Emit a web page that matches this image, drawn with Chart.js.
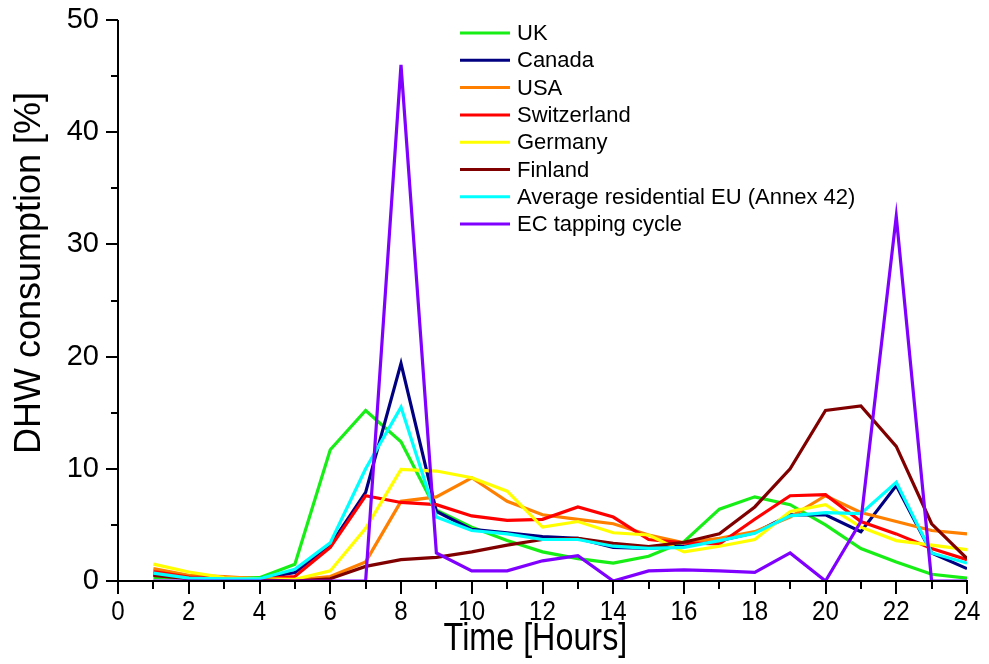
<!DOCTYPE html>
<html>
<head>
<meta charset="utf-8">
<script src="https://cdn.jsdelivr.net/npm/chart.js@4.4.1/dist/chart.umd.min.js"></script>
<style>
  html, body { margin: 0; padding: 0; background: #fff; }
  #wrap { width: 989px; height: 664px; position: relative; }
</style>
</head>
<body>
<div id="wrap"><canvas id="dhwChart"></canvas></div>
<script>
// hourly DHW profiles (% of daily use)
const hours = [1, 2, 3, 4, 5, 6, 7, 8, 9, 10, 11, 12, 13, 14, 15, 16, 17, 18, 19, 20, 21, 22, 23, 24];

const uk          = [0.3, 0.3, 0.25, 0.3, 1.5, 11.7, 15.2, 12.4, 6.3, 4.8, 3.6, 2.6, 2.0, 1.6, 2.2, 3.5, 6.4, 7.5, 6.8, 5.0, 2.9, 1.7, 0.6, 0.25];
const canada      = [0.6, 0.25, 0.2, 0.2, 0.75, 3.2, 7.9, 19.4, 6.2, 4.6, 4.3, 3.95, 3.8, 3.0, 2.9, 3.1, 3.6, 4.3, 5.9, 5.9, 4.4, 8.5, 2.5, 1.1];
const usa         = [1.1, 0.5, 0.4, 0.2, 0.1, 0.4, 1.7, 7.1, 7.5, 9.2, 7.1, 5.9, 5.5, 5.1, 4.1, 3.4, 3.8, 4.4, 5.7, 7.6, 6.1, 5.3, 4.5, 4.2];
const switzerland = [0.85, 0.35, 0.3, 0.2, 0.4, 3.0, 7.6, 7.0, 6.8, 5.8, 5.4, 5.5, 6.6, 5.7, 3.7, 3.4, 3.3, 5.5, 7.6, 7.7, 5.3, 4.2, 2.9, 1.9];
const germany     = [1.5, 0.8, 0.3, 0.2, 0.15, 0.9, 4.7, 9.95, 9.8, 9.2, 8.0, 4.8, 5.3, 4.3, 4.1, 2.6, 3.1, 3.7, 6.2, 6.8, 4.8, 3.6, 3.2, 2.8];
const finland     = [0.5, 0.2, 0.15, 0.1, 0.0, 0.2, 1.3, 1.9, 2.1, 2.6, 3.2, 3.7, 3.8, 3.35, 3.06, 3.45, 4.2, 6.6, 10.0, 15.2, 15.6, 12.0, 5.1, 2.0];
const avgEU       = [0.7, 0.25, 0.2, 0.2, 1.05, 3.4, 10.0, 15.5, 5.7, 4.5, 4.2, 3.7, 3.7, 3.1, 2.9, 3.0, 3.6, 4.25, 5.8, 6.1, 6.0, 8.8, 2.5, 1.6];
const ecCycle     = [0, 0, 0, 0, 0, 0, 0, 46, 2.5, 0.9, 0.9, 1.8, 2.26, 0, 0.9, 1.0, 0.9, 0.77, 2.5, 0, 5.3, 32.5, 0, 0];

const seriesNames = ["UK", "Canada", "USA", "Switzerland", "Germany", "Finland",
  "Average residential EU (Annex 42)", "EC tapping cycle"];
const seriesValues = [uk, canada, usa, switzerland, germany, finland, avgEU, ecCycle];
const seriesColors = ["#16ee16", "#000080", "#ff8000", "#ff0000", "#ffff00", "#800000", "#00ffff", "#8000ff"];

const xTickLabels = [0, 2, 4, 6, 8, 10, 12, 14, 16, 18, 20, 22, 24];
const yTickLabels = [0, 10, 20, 30, 40, 50];
const xTitle = "Time [Hours]";
const yTitle = "DHW consumption [%]";

const FONT = "'Liberation Sans', Arial, sans-serif";

// axis lines, long/short tick marks, condensed x labels and both titles
const axisDecor = {
  id: "axisDecor",
  afterDraw(chart) {
    const { ctx, chartArea: a, scales: { x, y } } = chart;
    ctx.save();
    ctx.strokeStyle = "#000";
    ctx.lineWidth = 2;
    ctx.beginPath();
    ctx.moveTo(a.left, a.top);
    ctx.lineTo(a.left, a.bottom);
    ctx.moveTo(a.left, a.bottom);
    ctx.lineTo(a.right + 1, a.bottom);
    for (let h = 0; h <= 24; h++) {
      const px = Math.round(x.getPixelForValue(h));
      const len = h % 2 === 0 ? 13 : 8;
      ctx.moveTo(px, a.bottom);
      ctx.lineTo(px, a.bottom + len);
    }
    for (let v = 0; v <= 50; v += 5) {
      const py = Math.round(y.getPixelForValue(v));
      const len = v % 10 === 0 ? 12 : 7;
      ctx.moveTo(a.left, py);
      ctx.lineTo(a.left - len, py);
    }
    ctx.stroke();

    // x labels look like a narrow face in the original, squeeze them a bit
    ctx.fillStyle = "#000";
    ctx.textAlign = "center";
    ctx.textBaseline = "middle";
    ctx.font = "28px " + FONT;
    xTickLabels.forEach((v) => {
      ctx.save();
      ctx.translate(x.getPixelForValue(v), a.bottom + 31);
      ctx.scale(0.86, 1);
      ctx.fillText(String(v), 0, 0);
      ctx.restore();
    });

    ctx.font = "38px " + FONT;
    ctx.save();
    ctx.translate(x.getPixelForValue(11.8), a.bottom + 59);
    ctx.scale(0.85, 1);
    ctx.fillText(xTitle, 0, 0);
    ctx.restore();

    ctx.font = "36px " + FONT;
    ctx.save();
    ctx.translate(30, 273);
    ctx.rotate(-Math.PI / 2);
    ctx.fillText(yTitle, 0, 0);
    ctx.restore();

    ctx.restore();
  },
};

// legend box inside the plot, top middle
const innerLegend = {
  id: "innerLegend",
  afterDraw(chart) {
    const { ctx, chartArea: a } = chart;
    const x0 = a.left + 342;
    const y0 = a.top + 13;
    const step = 27.3;
    ctx.save();
    ctx.font = "22px " + FONT;
    ctx.textBaseline = "middle";
    ctx.fillStyle = "#000";
    chart.data.datasets.forEach((ds, i) => {
      const yy = y0 + i * step;
      ctx.strokeStyle = ds.borderColor;
      ctx.lineWidth = 3;
      ctx.beginPath();
      ctx.moveTo(x0, yy);
      ctx.lineTo(x0 + 50, yy);
      ctx.stroke();
      ctx.fillText(ds.label, x0 + 57, yy + 1);
    });
    ctx.restore();
  },
};

const datasets = seriesNames.map((name, i) => ({
  label: name,
  data: hours.map((h, j) => ({ x: h, y: seriesValues[i][j] })),
  borderColor: seriesColors[i],
  backgroundColor: seriesColors[i],
  borderWidth: 3.2,
  pointRadius: 0,
  tension: 0,
  fill: false,
  order: -i,
}));

new Chart(document.getElementById("dhwChart"), {
  type: "line",
  data: { datasets },
  options: {
    responsive: true,
    maintainAspectRatio: false,
    animation: false,
    layout: { padding: { top: 20, right: 22, left: 0, bottom: 0 } },
    plugins: {
      legend: { display: false },
      tooltip: { enabled: false },
    },
    scales: {
      x: {
        type: "linear",
        min: 0,
        max: 24,
        grid: { display: false, drawTicks: false },
        border: { display: false },
        afterBuildTicks(scale) {
          scale.ticks = xTickLabels.map((v) => ({ value: v }));
        },
        afterFit(scale) {
          scale.height = 83;
          scale.paddingLeft = 0;
          scale.paddingRight = 0;
        },
        ticks: { display: false },
        title: { display: false },
      },
      y: {
        min: 0,
        max: 50,
        grid: { display: false, drawTicks: false },
        border: { display: false },
        afterBuildTicks(scale) {
          scale.ticks = yTickLabels.map((v) => ({ value: v }));
        },
        afterFit(scale) {
          scale.width = 118;
          scale.paddingTop = 0;
          scale.paddingBottom = 0;
        },
        ticks: {
          padding: 19,
          color: "#000",
          font: { family: FONT, size: 29 },
        },
        title: { display: false },
      },
    },
  },
  plugins: [axisDecor, innerLegend],
});
</script>
</body>
</html>
